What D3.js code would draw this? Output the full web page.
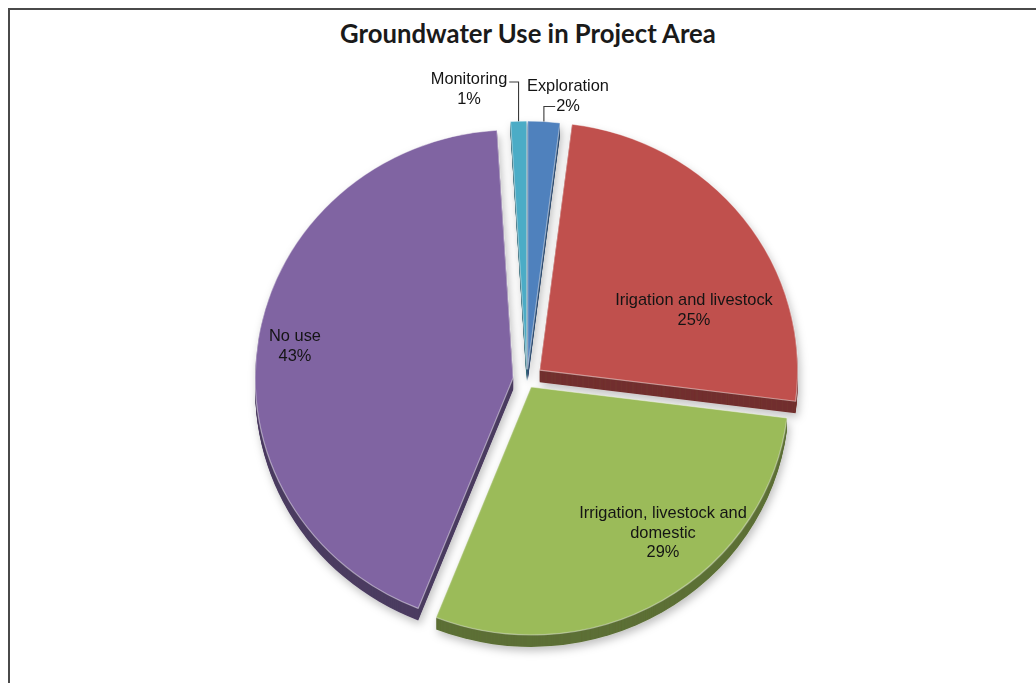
<!DOCTYPE html>
<html>
<head>
<meta charset="utf-8">
<script src="https://cdn.jsdelivr.net/npm/d3@7"></script>
<style>
  html, body { margin: 0; padding: 0; background: #ffffff; }
  svg { display: block; }
</style>
</head>
<body>
<script>
// Groundwater use shares (percent), listed clockwise from 12 o'clock
const categories = [
  "Exploration",
  "Irigation and livestock",
  "Irrigation, livestock and domestic",
  "No use",
  "Monitoring"
];
const values = [2, 25, 29, 43, 1];
const valueLabels = ["2%", "25%", "29%", "43%", "1%"];
const sliceColors = ["#4F81BD", "#C0504D", "#9BBB59", "#8064A2", "#4BACC6"];

const chartTitle = "Groundwater Use in Project Area";

// ---- layout ----
const W = 1036, H = 683;
const cx = 527, cy = 380;          // pie centre
const rx = 258, ry = 248;          // top-face radii (slight tilt)
const depth = 12;                  // thickness of the 3-D slab
const explodeBy = [11, 16, 8, 14, 11];
const labelFont = "'Liberation Sans', Arial, sans-serif";
const labelSize = 16.4;
const lineGap = 19.5;
const wrapWidth = 180;
// label anchors: centre x and first baseline
const labelAnchor = [
  { x: 568, y: 91,  outside: true },
  { x: 694, y: 305 },
  { x: 663, y: 518 },
  { x: 295, y: 341 },
  { x: 469, y: 84,  outside: true }
];

const svg = d3.select("body").append("svg")
  .attr("width", W).attr("height", H);

// soft shadow under the slab
const defs = svg.append("defs");
const f = defs.append("filter").attr("id", "slabShadow")
  .attr("x", "-10%").attr("y", "-10%").attr("width", "120%").attr("height", "125%");
f.append("feDropShadow").attr("dx", 2).attr("dy", 4)
  .attr("stdDeviation", 4).attr("flood-color", "#000").attr("flood-opacity", 0.25);

// frame
svg.append("rect")
  .attr("x", 9).attr("y", 9)
  .attr("width", W + 20).attr("height", H + 20)
  .attr("fill", "none").attr("stroke", "#4a4a4a").attr("stroke-width", 2);

// title, fitted to its measured width
const title = svg.append("text")
  .attr("x", 528).attr("y", 43)
  .attr("text-anchor", "middle")
  .attr("font-family", "Lato, 'Open Sans', sans-serif")
  .attr("font-weight", 700)
  .attr("font-size", 26)
  .attr("fill", "#1a1a1a")
  .text(chartTitle);
const tLen = title.node().getComputedTextLength();
title.attr("font-size", 26 * 376 / tLen);

// pie geometry
const pie = d3.pie().sort(null).value(d => d.value);
const data = categories.map((c, i) => ({
  name: c, value: values[i], label: valueLabels[i], color: sliceColors[i], i
}));
const arcs = pie(data);
const arc = d3.arc().innerRadius(0).outerRadius(rx);
const k = ry / rx;

arcs.forEach(a => {
  const mid = (a.startAngle + a.endAngle) / 2;
  const e = explodeBy[a.data.i];
  a.ox = e * Math.sin(mid);
  a.oy = -e * Math.cos(mid);
  a.mid = mid;
});

const sliceTransform = (a, dy) =>
  `translate(${cx + a.ox},${cy + a.oy + dy}) scale(1,${k})`;

// side walls: stacked darker copies of each slice
const sides = svg.append("g").attr("filter", "url(#slabShadow)");
arcs.forEach(a => {
  const dark = d3.color(a.data.color).darker(1.45).formatHex();
  for (let s = depth; s >= 1; s--) {
    sides.append("path")
      .attr("d", arc(a))
      .attr("transform", sliceTransform(a, s))
      .attr("fill", dark);
  }
});

// top faces
const tops = svg.append("g");
tops.selectAll("path.top")
  .data(arcs)
  .join("path")
  .attr("class", "top")
  .attr("d", d => arc(d))
  .attr("transform", d => sliceTransform(d, 0))
  .attr("fill", d => d.data.color)
  .attr("stroke", "rgba(255,255,255,0.45)")
  .attr("stroke-width", 1.2)
  .attr("stroke-linejoin", "round");

// label text helper with simple word wrapping
const measurer = svg.append("text")
  .attr("font-family", labelFont).attr("font-size", labelSize)
  .attr("visibility", "hidden");
function wrap(str) {
  const words = str.split(" ");
  const lines = [];
  let cur = "";
  words.forEach(w => {
    const test = cur ? cur + " " + w : w;
    measurer.text(test);
    if (cur && measurer.node().getComputedTextLength() > wrapWidth) {
      lines.push(cur);
      cur = w;
    } else {
      cur = test;
    }
  });
  if (cur) lines.push(cur);
  return lines;
}

const labels = svg.append("g");
arcs.forEach(a => {
  const pos = labelAnchor[a.data.i];
  const lines = wrap(a.data.name).concat([a.data.label]);
  const t = labels.append("text")
    .attr("font-family", labelFont)
    .attr("font-size", labelSize)
    .attr("fill", "#141414")
    .attr("text-anchor", "middle");
  lines.forEach((ln, j) => {
    t.append("tspan").attr("x", pos.x).attr("y", pos.y + j * lineGap).text(ln);
  });

  if (pos.outside) {
    // leader from the label to the outer rim of the slice
    const tipX = cx + a.ox + rx * Math.sin(a.mid);
    const tipY = cy + a.oy - ry * Math.cos(a.mid);
    const spans = t.selectAll("tspan").nodes();
    let hx, hy;
    if (tipX < pos.x) {
      // leader leaves from the left of the value line
      const bb = spans[spans.length - 1].getBBox();
      hx = bb.x - 1;
      hy = pos.y + (spans.length - 1) * lineGap - 4;
    } else {
      // leader leaves from the right of the name line
      const bb = spans[0].getBBox();
      hx = bb.x + bb.width + 2;
      hy = pos.y - 2;
    }
    labels.append("path")
      .attr("d", `M${hx},${hy}H${tipX}V${tipY}`)
      .attr("fill", "none")
      .attr("stroke", "#3a3a3a")
      .attr("stroke-width", 1.1);
  }
});
measurer.remove();
</script>
</body>
</html>
